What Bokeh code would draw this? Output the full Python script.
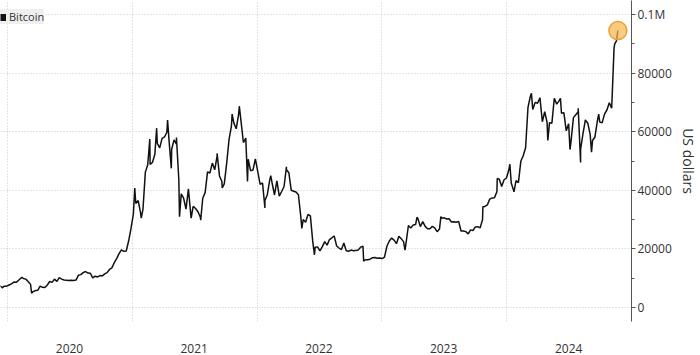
import pandas as pd
from datetime import datetime
from bokeh.plotting import figure
from bokeh.models import (Range1d, FixedTicker, DatetimeTickFormatter, Legend,
                          LegendItem, ColumnDataSource, BasicTickFormatter, LinearAxis)
from bokeh.embed import file_html
from bokeh.resources import INLINE

# ---- data: weekly (Monday) Bitcoin prices, US dollars ----
btc_2019 = [7500, 7000, 7300, 7300]
btc_2020 = [7700, 8100, 8700, 8600,
            9300, 10100, 9900, 9700,
            8900, 7900, 5400, 5800, 5900,
            7300, 6900, 6850, 7700,
            8900, 8600, 9700, 8900,
            10200, 9700, 9400, 9300, 9200,
            9350, 9250, 9380, 11000,
            11230, 11900, 12300, 11750, 11700,
            10100, 10700, 10440, 10900,
            10800, 11500, 11900, 13000,
            13550, 15300, 16700, 18400, 19700,
            19200, 19300, 22700, 27000]
btc_2021 = [32000, 35500, 36500, 32300,
            33500, 46200, 48700, 48800,
            49600, 52400, 56000, 54500, 57700,
            58200, 59800, 56000, 54000,
            57200, 55800, 43500, 38800, 37300,
            33600, 40500, 31700, 34500,
            33800, 32700, 30800, 37300,
            39200, 46300, 45900, 49300, 47000,
            51700, 44900, 43000, 42200,
            49200, 57400, 62000, 63000,
            61000, 66000, 63600, 56300, 57800,
            50600, 46700, 46900, 50700]
btc_2022 = [46400, 42000, 42500, 36500, 38500,
            43500, 42500, 38400, 43200,
            38000, 39600, 41300, 47000,
            46000, 40000, 39700, 39400,
            38500, 31000, 30000, 29100, 31800,
            31300, 22500, 20600, 20700,
            19300, 20800, 22500, 21300,
            23200, 23800, 24300, 21000, 20300,
            19800, 22000, 19400, 19200,
            19600, 19400, 19500, 19600, 20600,
            20900, 16300, 16300, 16500,
            17000, 17100, 16800, 16900]
btc_2023 = [16700, 17200, 20900, 22700, 23700,
            23000, 21800, 24300, 23500,
            22400, 22000, 28000, 27100,
            28200, 28300, 30300, 27600,
            29300, 27700, 26900, 26900, 27700,
            27200, 25900, 26800, 30500,
            30600, 30200, 30300, 29200, 29300,
            29100, 29400, 26100, 26100,
            25900, 25100, 26500, 26300,
            27500, 27600, 27200, 30000, 34500,
            35000, 37000, 37400, 37500,
            39500, 43800, 41300, 43600]
btc_2024 = [44200, 47000, 42500, 39900, 43300,
            42600, 49900, 51800, 54500,
            68300, 72100, 67600, 70000,
            69700, 71600, 63400, 66800, 63100,
            63100, 62900, 71400, 69400,
            70500, 66300, 66500, 60300,
            62700, 56700, 64800, 65800, 66800,
            54000, 59300, 64000, 62900,
            59100, 57000, 58200, 63600, 63300,
            63000, 66000, 67400, 69900,
            68000, 88700, 91000]
week_starts = ["2019-12-09", "2020-01-06", "2021-01-04",
               "2022-01-03", "2023-01-02", "2024-01-01"]

# intraweek highs / lows visible on the chart
extreme_dates = ["2019-12-17", "2020-02-13", "2020-03-12", "2020-08-17",
                 "2021-01-08", "2021-01-27", "2021-02-21", "2021-03-13",
                 "2021-04-14", "2021-04-25", "2021-05-10", "2021-05-19",
                 "2021-06-22", "2021-07-20", "2021-09-06", "2021-09-21",
                 "2021-10-20", "2021-11-10", "2021-12-04",
                 "2022-01-24", "2022-02-10", "2022-03-28", "2022-05-12",
                 "2022-06-18", "2022-08-14", "2022-11-09",
                 "2023-03-10", "2023-04-14", "2023-06-23", "2023-10-24",
                 "2023-12-05",
                 "2024-01-11", "2024-01-23", "2024-03-14", "2024-05-01",
                 "2024-06-07", "2024-07-05", "2024-07-29", "2024-08-05",
                 "2024-09-06", "2024-09-27", "2024-11-13", "2024-11-22"]
extreme_values = [6700, 10300, 4900, 12300,
                  40800, 30500, 57500, 61200,
                  64000, 47500, 58000, 31000,
                  30500, 29800, 52600, 40800,
                  66000, 68700, 43000,
                  34000, 45000, 48000, 27000,
                  18000, 24400, 15800,
                  19600, 30800, 31000, 34400,
                  44000,
                  48900, 39500, 73100, 57000,
                  71400, 53900, 68000, 49500,
                  53000, 66000, 90000, 94500]

y_ticks = [0, 20000, 40000, 60000, 80000, 100000]
y_minor = [10000, 30000, 50000, 70000, 90000]
year_labels = [2020, 2021, 2022, 2023, 2024]

# ---- build series ----
parts = []
for start, vals in zip(week_starts, [btc_2019, btc_2020, btc_2021, btc_2022, btc_2023, btc_2024]):
    parts.append(pd.DataFrame({"date": pd.date_range(start, periods=len(vals), freq="7D"),
                               "price": vals}))
parts.append(pd.DataFrame({"date": pd.to_datetime(extreme_dates), "price": extreme_values}))
df = pd.concat(parts).sort_values("date").reset_index(drop=True)
src = ColumnDataSource(df)
last = ColumnDataSource(df.iloc[[-1]])

def ms(ts):
    return pd.Timestamp(ts).value // 10**6

FONT = "Open Sans"

p = figure(width=700, height=355, output_backend="svg", toolbar_location=None,
           x_axis_type="datetime", y_axis_location="right",
           x_range=Range1d(datetime(2019, 12, 12), datetime(2025, 1, 1)),
           y_range=Range1d(-4760, 104760),
           min_border_left=0, min_border_top=0, min_border_bottom=33, min_border_right=67)
p.outline_line_color = None
p.background_fill_color = "white"
p.border_fill_color = "white"

# x axis: year labels mid-year, grid at year boundaries
p.xaxis.ticker = FixedTicker(ticks=[ms(f"{y}-07-01") for y in year_labels])
p.xaxis.formatter = DatetimeTickFormatter(years="%Y", months="%Y", days="%Y", hours="%Y")
p.xaxis.axis_line_color = None
p.xaxis.major_tick_line_color = None
p.xaxis.minor_tick_line_color = None
p.xaxis.major_label_standoff = 16
p.xaxis.major_label_text_font = FONT
p.xaxis.major_label_text_font_size = "12px"
p.xaxis.major_label_text_color = "#333333"
p.xgrid.ticker = FixedTicker(ticks=[ms(f"{y}-01-01") for y in year_labels])
p.xgrid.grid_line_color = "#c8c8c8"
p.xgrid.grid_line_dash = "1 2"

# y axis on the right
p.yaxis.ticker = FixedTicker(ticks=y_ticks, minor_ticks=y_minor)
p.yaxis.formatter = BasicTickFormatter(use_scientific=False)
p.yaxis.major_label_overrides = {100000: "0.1M"}
p.yaxis.axis_line_color = "#555555"
p.yaxis.major_tick_line_color = "#555555"
p.yaxis.minor_tick_line_color = "#555555"
p.yaxis.major_tick_in = 0
p.yaxis.major_tick_out = 4
p.yaxis.minor_tick_in = 0
p.yaxis.minor_tick_out = 3
p.yaxis.major_label_standoff = 2
p.yaxis.major_label_text_font = FONT
p.yaxis.major_label_text_font_size = "12px"
p.yaxis.major_label_text_color = "#333333"
p.ygrid.grid_line_color = "#c8c8c8"
p.ygrid.grid_line_dash = "1 2"

# axis title on a second, tick-less right axis
title_axis = LinearAxis(ticker=FixedTicker(ticks=[]), axis_label="US dollars",
                        axis_line_color=None, major_tick_line_color=None,
                        minor_tick_line_color=None, major_tick_in=0, major_tick_out=0,
                        minor_tick_in=0, minor_tick_out=0, major_label_standoff=0,
                        axis_label_standoff=4, axis_label_text_font=FONT,
                        axis_label_text_font_size="14px", axis_label_text_font_style="normal",
                        axis_label_text_color="#333333")
p.add_layout(title_axis, "right")

# price line
p.line("date", "price", source=src, line_color="#111111", line_width=1.5)

# highlight of the latest value
p.scatter("date", "price", source=last, size=18, marker="circle",
          fill_color="#f5b54a", fill_alpha=0.7, line_color="#e9a23b", line_width=1.5)

# legend with a square key (renderer placed off-range so only its legend glyph shows)
key_src = ColumnDataSource({"date": df["date"].iloc[:2], "price": [-1e6, -1e6]})
key = p.line("date", "price", source=key_src, line_color="#111111", line_width=7)
legend = Legend(items=[LegendItem(label="Bitcoin", renderers=[key])],
                location=(0, 297), orientation="vertical",
                padding=4, margin=0, spacing=0,
                glyph_width=6, glyph_height=14, label_height=14, label_standoff=3,
                label_text_font=FONT, label_text_font_size="11px", label_text_color="#333333",
                background_fill_color="#efefef", background_fill_alpha=1.0,
                border_line_color=None)
p.add_layout(legend)

open("out.html", "w").write(file_html(p, INLINE))
